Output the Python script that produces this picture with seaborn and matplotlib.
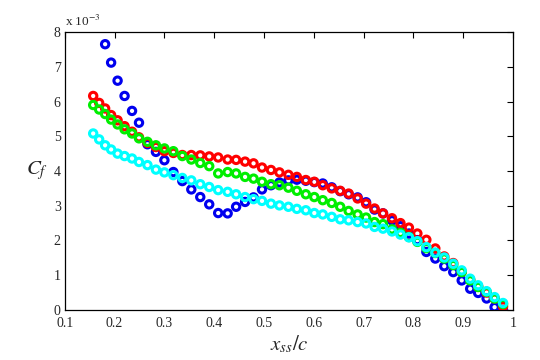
import numpy as np
import pandas as pd
import matplotlib
matplotlib.use('Agg')
import matplotlib.pyplot as plt
import seaborn as sns

# shared chordwise stations x_ss/c
x_pos = [0.157, 0.169, 0.181, 0.193, 0.206, 0.220, 0.235, 0.249, 0.266, 0.283,
         0.300, 0.318, 0.336, 0.354, 0.372, 0.390, 0.408, 0.427, 0.444, 0.462,
         0.479, 0.496, 0.514, 0.531, 0.549, 0.566, 0.584, 0.601, 0.618, 0.636,
         0.653, 0.670, 0.688, 0.705, 0.722, 0.739, 0.757, 0.774, 0.791, 0.808,
         0.826, 0.844, 0.862, 0.880, 0.897, 0.914, 0.930, 0.947, 0.963, 0.980]

# Cf values in units of 1e-3
cf_blue = [7.65, 7.12, 6.60, 6.16, 5.73, 5.39, 4.77, 4.55,
           4.31, 3.97, 3.71, 3.47, 3.25, 3.04, 2.79, 2.78, 2.97, 3.11,
           3.24, 3.47, 3.59, 3.67, 3.73, 3.75, 3.72, 3.68, 3.64, 3.53,
           3.42, 3.33, 3.24, 3.10, 2.89, 2.78, 2.58, 2.41, 2.20, 2.01,
           1.67, 1.48, 1.26, 1.09, 0.85, 0.61, 0.49, 0.33, 0.08, 0.00]
cf_red = [6.16, 5.96, 5.80, 5.61, 5.46, 5.29, 5.13, 4.97, 4.81, 4.69,
          4.57, 4.52, 4.46, 4.46, 4.45, 4.42, 4.39, 4.33, 4.32, 4.27,
          4.22, 4.10, 4.03, 3.96, 3.89, 3.83, 3.74, 3.69, 3.59, 3.50,
          3.43, 3.35, 3.21, 3.06, 2.92, 2.78, 2.64, 2.50, 2.37, 2.20,
          2.02, 1.77, 1.54, 1.35, 1.10, 0.87, 0.68, 0.50, 0.33, 0.10]
cf_green = [5.90, 5.77, 5.64, 5.48, 5.34, 5.20, 5.08, 4.94, 4.84, 4.74,
            4.65, 4.57, 4.43, 4.33, 4.23, 4.14, 3.93, 3.97, 3.93, 3.83,
            3.78, 3.69, 3.62, 3.59, 3.52, 3.43, 3.33, 3.25, 3.16, 3.08,
            2.97, 2.85, 2.75, 2.66, 2.53, 2.47, 2.32, 2.22, 2.10, 1.96,
            1.78, 1.64, 1.48, 1.29, 1.09, 0.85, 0.66, 0.52, 0.33, 0.17]
cf_cyan = [5.08, 4.91, 4.74, 4.62, 4.50, 4.43, 4.36, 4.26, 4.17, 4.04,
           3.96, 3.88, 3.80, 3.73, 3.62, 3.54, 3.45, 3.40, 3.33, 3.25,
           3.19, 3.14, 3.06, 3.01, 2.97, 2.91, 2.87, 2.79, 2.75, 2.68,
           2.61, 2.58, 2.53, 2.49, 2.39, 2.34, 2.26, 2.17, 2.09, 1.98,
           1.81, 1.65, 1.51, 1.33, 1.14, 0.90, 0.71, 0.54, 0.37, 0.20]

series = [('blue', x_pos[2:], cf_blue, '#0000ee'),
          ('red', x_pos, cf_red, '#ff0000'),
          ('green', x_pos, cf_green, '#00ee00'),
          ('cyan', x_pos, cf_cyan, '#00ffff')]

sns.set_style('white')
plt.rcParams['font.family'] = ['Liberation Serif', 'DejaVu Serif']
plt.rcParams['mathtext.fontset'] = 'stix'

fig = plt.figure(figsize=(5.4, 3.6), dpi=100)
ax = fig.add_axes([0.120, 0.139, 0.830, 0.772])

for name, xs, ys, col in series:
    df = pd.DataFrame({'x': xs, 'cf': ys})
    sns.scatterplot(data=df, x='x', y='cf', ax=ax, marker='o',
                    facecolors='none', edgecolor=col, color=col,
                    s=28, linewidth=2.2, legend=False, zorder=3)

ax.set_xlim(0.1, 1.0)
ax.set_ylim(0, 8)
ax.set_xticks(np.arange(0.1, 1.01, 0.1))
ax.set_xticklabels(['0.1', '0.2', '0.3', '0.4', '0.5', '0.6', '0.7', '0.8', '0.9', '1'])
ax.set_yticks(range(0, 9))
ax.tick_params(direction='in', length=4, width=0.8, top=True, right=True,
               labelsize=10, pad=3, color='black')
ax.tick_params(axis='x', pad=5)
for sp in ax.spines.values():
    sp.set_visible(True)
    sp.set_color('black')
    sp.set_linewidth(0.9)

ax.set_xlabel('$x_{ss}/c$', fontsize=15, labelpad=3)
ax.set_ylabel('$C_f$', fontsize=15, rotation=0, labelpad=12, va='center')
ax.text(0.0, 1.01, 'x 10$^{-3}$', transform=ax.transAxes, fontsize=9.5,
        ha='left', va='bottom')

fig.savefig('out.png', dpi=100)
